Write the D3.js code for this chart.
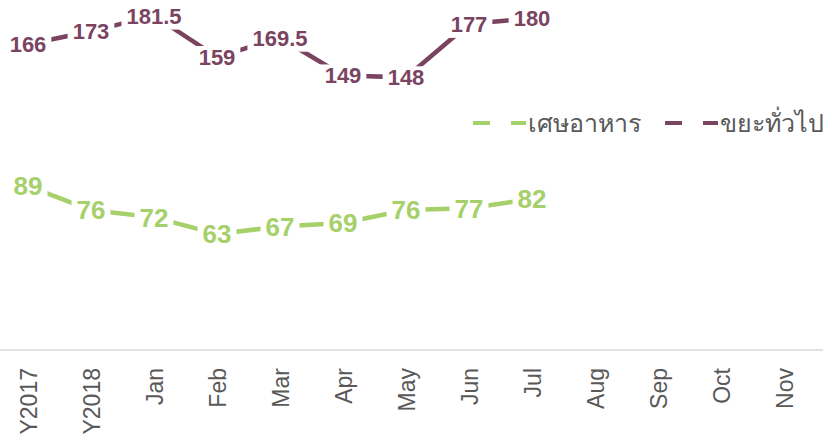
<!DOCTYPE html>
<html>
<head>
<meta charset="utf-8">
<script src="https://cdn.jsdelivr.net/npm/d3@7"></script>
<style>
  html, body { margin: 0; padding: 0; background: #fff; }
  svg { display: block; }
</style>
</head>
<body>
<svg id="chart" width="823" height="437"></svg>
<script>
const categories = ["Y2017","Y2018","Jan","Feb","Mar","Apr","May","Jun","Jul","Aug","Sep","Oct","Nov"];
const foodWaste = [89, 76, 72, 63, 67, 69, 76, 77, 82];
const generalWaste = [166, 173, 181.5, 159, 169.5, 149, 148, 177, 180];
const seriesNames = ["เศษอาหาร", "ขยะทั่วไป"];
const seriesColors = ["#a6d06a", "#7a4461"];

const svg = d3.select("#chart");
const W = 823, H = 437;

const x = d3.scaleBand().domain(categories).range([-3.5, 815.5]);
const y = d3.scaleLinear().domain([0, 190]).range([350, 0]);
const cx = c => x(c) + x.bandwidth() / 2;

// axis line
svg.append("line")
  .attr("x1", 0).attr("x2", W)
  .attr("y1", 350).attr("y2", 350)
  .attr("stroke", "#d9d9d9").attr("stroke-width", 1.5);

// tick labels
const xAxis = d3.axisBottom(x).tickSize(0).tickPadding(0);
const gx = svg.append("g").attr("transform", "translate(0,350)").call(xAxis);
gx.select(".domain").remove();
gx.selectAll(".tick text")
  .attr("transform", "rotate(-90)")
  .attr("text-anchor", "end")
  .attr("x", -18)
  .attr("y", 0)
  .attr("dy", "0.37em")
  .attr("fill", "#595959")
  .style("font-family", "'Liberation Sans', Arial, sans-serif")
  .style("font-size", "23px");

const series = [
  { name: seriesNames[0], color: seriesColors[0], values: foodWaste, fs: 26 },
  { name: seriesNames[1], color: seriesColors[1], values: generalWaste, fs: 22 }
];

const line = d3.line()
  .x((d, i) => cx(categories[i]))
  .y(d => y(d));

series.forEach(s => {
  const g = svg.append("g");
  g.append("path")
    .datum(s.values)
    .attr("d", line)
    .attr("fill", "none")
    .attr("stroke", s.color)
    .attr("stroke-width", 4.5);

  const lab = g.selectAll("g.lab").data(s.values).enter().append("g")
    .attr("class", "lab")
    .attr("transform", (d, i) => `translate(${cx(categories[i])},${y(d)})`);
  lab.append("rect").attr("fill", "#fff");
  const texts = lab.append("text")
    .attr("text-anchor", "middle")
    .attr("dy", "0.36em")
    .attr("fill", s.color)
    .style("font-family", "'Liberation Sans', Arial, sans-serif")
    .style("font-weight", "700")
    .style("font-size", s.fs + "px")
    .text(d => d);
  texts.each(function () {
    const b = this.getBBox();
    d3.select(this.previousSibling)
      .attr("x", b.x - 5).attr("y", b.y + 1)
      .attr("width", b.width + 10).attr("height", b.height);
  });
});

// legend
const legendY = 123;
const legend = [
  { x0: 473, name: seriesNames[0], color: seriesColors[0] },
  { x0: 665, name: seriesNames[1], color: seriesColors[1] }
];
legend.forEach(l => {
  const g = svg.append("g");
  g.append("line").attr("x1", l.x0).attr("x2", l.x0 + 17)
    .attr("y1", legendY).attr("y2", legendY)
    .attr("stroke", l.color).attr("stroke-width", 4);
  g.append("line").attr("x1", l.x0 + 38).attr("x2", l.x0 + 53)
    .attr("y1", legendY).attr("y2", legendY)
    .attr("stroke", l.color).attr("stroke-width", 4);
  g.append("text")
    .attr("x", l.x0 + 55).attr("y", legendY)
    .attr("dy", "0.35em")
    .attr("fill", "#595959")
    .style("font-family", "sans-serif")
    .style("font-size", "25px")
    .text(l.name);
});
</script>
</body>
</html>
